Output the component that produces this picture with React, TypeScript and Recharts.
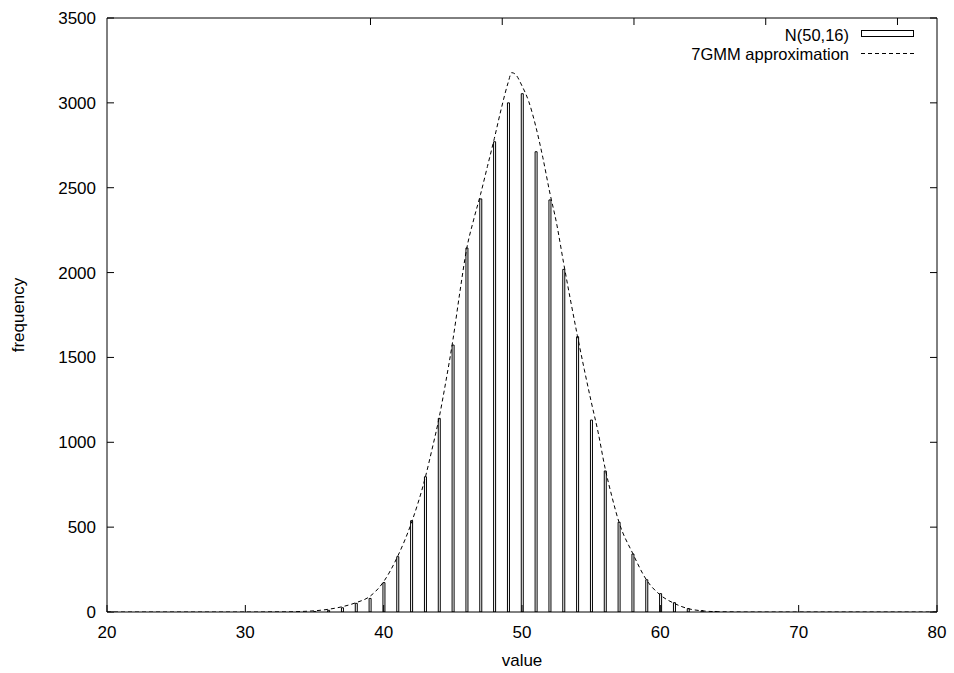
import React from 'react'
import {Bar, ComposedChart, Line, XAxis, YAxis} from 'recharts'

// histogram of samples from N(50,16), one box per integer value
const BIN_CENTERS = [35, 36, 37, 38, 39, 40, 41, 42, 43, 44, 45, 46, 47, 48, 49, 50, 51, 52, 53, 54, 55, 56, 57, 58, 59, 60, 61, 62, 63, 64]
const BIN_COUNTS = [3, 10, 25, 51, 80, 173, 326, 538, 797, 1141, 1573, 2145, 2434, 2771, 3000, 3054, 2712, 2428, 2019, 1622, 1131, 831, 529, 342, 190, 108, 55, 20, 8, 3]

// 7 component GMM curve
const FIT_X = [20, 22, 24, 26, 28, 30, 31, 32, 33, 34, 35, 36, 37, 38, 39, 40, 41, 42, 43, 43.5, 44, 44.5, 45, 45.5, 46, 46.5, 47, 47.5, 48, 48.5, 49, 49.25, 49.5, 50, 50.5, 51, 51.5, 52, 52.5, 53, 53.5, 54, 54.5, 55, 55.5, 56, 56.5, 57, 58, 59, 60, 61, 62, 63, 64, 65, 66, 68, 70, 72, 74, 76, 78, 80]
const FIT_Y = [0, 0, 0, 0, 0, 0, 0, 1, 1, 3, 7, 16, 31, 55, 92, 179, 326, 524, 790, 960, 1141, 1360, 1600, 1880, 2140, 2310, 2460, 2625, 2790, 2965, 3120, 3178, 3170, 3100, 3005, 2860, 2680, 2475, 2290, 2060, 1840, 1630, 1430, 1240, 1060, 850, 680, 532, 346, 189, 100, 51, 20, 7, 2, 1, 0, 0, 0, 0, 0, 0, 0, 0]

const X_TICKS = [20, 30, 40, 50, 60, 70, 80]
const Y_TICKS = [0, 500, 1000, 1500, 2000, 2500, 3000, 3500]

const FONT = '"Liberation Sans", Arial, Helvetica, sans-serif'
const FS = 17
const TICK_LEN = 7

const rows = (() => {
    const byX = new Map<number, {x: number, count?: number, fit?: number}>()
    FIT_X.forEach((x, i) => byX.set(x, {x, fit: FIT_Y[i]}))
    BIN_CENTERS.forEach((x, i) => {
        const row = byX.get(x) || {x}
        row.count = BIN_COUNTS[i]
        byX.set(x, row)
    })
    return Array.from(byX.values()).sort((a, b) => a.x - b.x)
})()

const BottomTick = ({x, y, payload}: any) => (
    <g>
        <line x1={x} y1={y} x2={x} y2={y - TICK_LEN} stroke="#000"/>
        <text x={x} y={y + 26} textAnchor="middle" fontFamily={FONT} fontSize={FS} fill="#000">
            {payload.value}
        </text>
    </g>
)

const TopTick = ({x, y}: any) => (
    <line x1={x} y1={y} x2={x} y2={y + TICK_LEN} stroke="#000"/>
)

const LeftTick = ({x, y, payload}: any) => (
    <g>
        <line x1={x} y1={y} x2={x + TICK_LEN} y2={y} stroke="#000"/>
        <text x={x - 11} y={y + 6} textAnchor="end" fontFamily={FONT} fontSize={FS} fill="#000">
            {payload.value}
        </text>
    </g>
)

const RightTick = ({x, y}: any) => (
    <line x1={x} y1={y} x2={x - TICK_LEN} y2={y} stroke="#000"/>
)

export default function App() {
    return (
        <div style={{position: 'absolute', left: 0, top: 0, width: 954, height: 673, background: '#fff'}}>
            <ComposedChart
                width={954}
                height={673}
                data={rows}
                margin={{top: 17, right: 16, bottom: 0, left: 0}}
            >
                <XAxis
                    dataKey="x"
                    type="number"
                    domain={[20, 80]}
                    ticks={X_TICKS}
                    allowDataOverflow
                    height={61}
                    tickSize={0}
                    tickMargin={0}
                    tickLine={false}
                    tick={<BottomTick/>}
                    axisLine={{stroke: '#000'}}
                    interval={0}
                    label={({viewBox}: any) => (
                        <text x={viewBox.x + viewBox.width / 2} y={viewBox.y + 54} textAnchor="middle"
                              fontFamily={FONT} fontSize={FS} fill="#000">value</text>
                    )}
                />
                <XAxis
                    xAxisId="top"
                    orientation="top"
                    type="number"
                    domain={[20, 80]}
                    ticks={X_TICKS}
                    allowDataOverflow
                    height={1}
                    tickSize={0}
                    tickMargin={0}
                    tickLine={false}
                    tick={<TopTick/>}
                    axisLine={{stroke: '#000'}}
                    interval={0}
                />
                <YAxis
                    type="number"
                    domain={[0, 3500]}
                    ticks={Y_TICKS}
                    allowDataOverflow
                    width={107}
                    tickSize={0}
                    tickMargin={0}
                    tickLine={false}
                    tick={<LeftTick/>}
                    axisLine={{stroke: '#000'}}
                    interval={0}
                    label={({viewBox}: any) => {
                        const cx = 24
                        const cy = viewBox.y + viewBox.height / 2
                        return (
                            <text x={cx} y={cy} transform={`rotate(-90 ${cx} ${cy})`} textAnchor="middle"
                                  fontFamily={FONT} fontSize={FS} fill="#000">frequency</text>
                        )
                    }}
                />
                <YAxis
                    yAxisId="right"
                    orientation="right"
                    type="number"
                    domain={[0, 3500]}
                    ticks={Y_TICKS}
                    allowDataOverflow
                    width={1}
                    tickSize={0}
                    tickMargin={0}
                    tickLine={false}
                    tick={<RightTick/>}
                    axisLine={{stroke: '#000'}}
                    interval={0}
                />
                <Bar dataKey="count" barSize={2} fill="#fff" stroke="#000" strokeWidth={1} isAnimationActive={false}/>
                <Line dataKey="fit" type="monotone" stroke="#000" strokeWidth={1} strokeDasharray="4 3"
                      dot={false} activeDot={false} isAnimationActive={false}/>
            </ComposedChart>

            {/* key, top right corner like gnuplot */}
            <svg width={954} height={673} style={{position: 'absolute', left: 0, top: 0, pointerEvents: 'none'}}>
                <text x={849} y={41} textAnchor="end" fontFamily={FONT} fontSize={16.5} fill="#000">N(50,16)</text>
                <rect x={861.5} y={30.5} width={52} height={6} fill="#fff" stroke="#000"/>
                <text x={849} y={60} textAnchor="end" fontFamily={FONT} fontSize={16.5} fill="#000">7GMM approximation</text>
                <line x1={861} y1={53.5} x2={914} y2={53.5} stroke="#000" strokeDasharray="4 3"/>
            </svg>
        </div>
    )
}
